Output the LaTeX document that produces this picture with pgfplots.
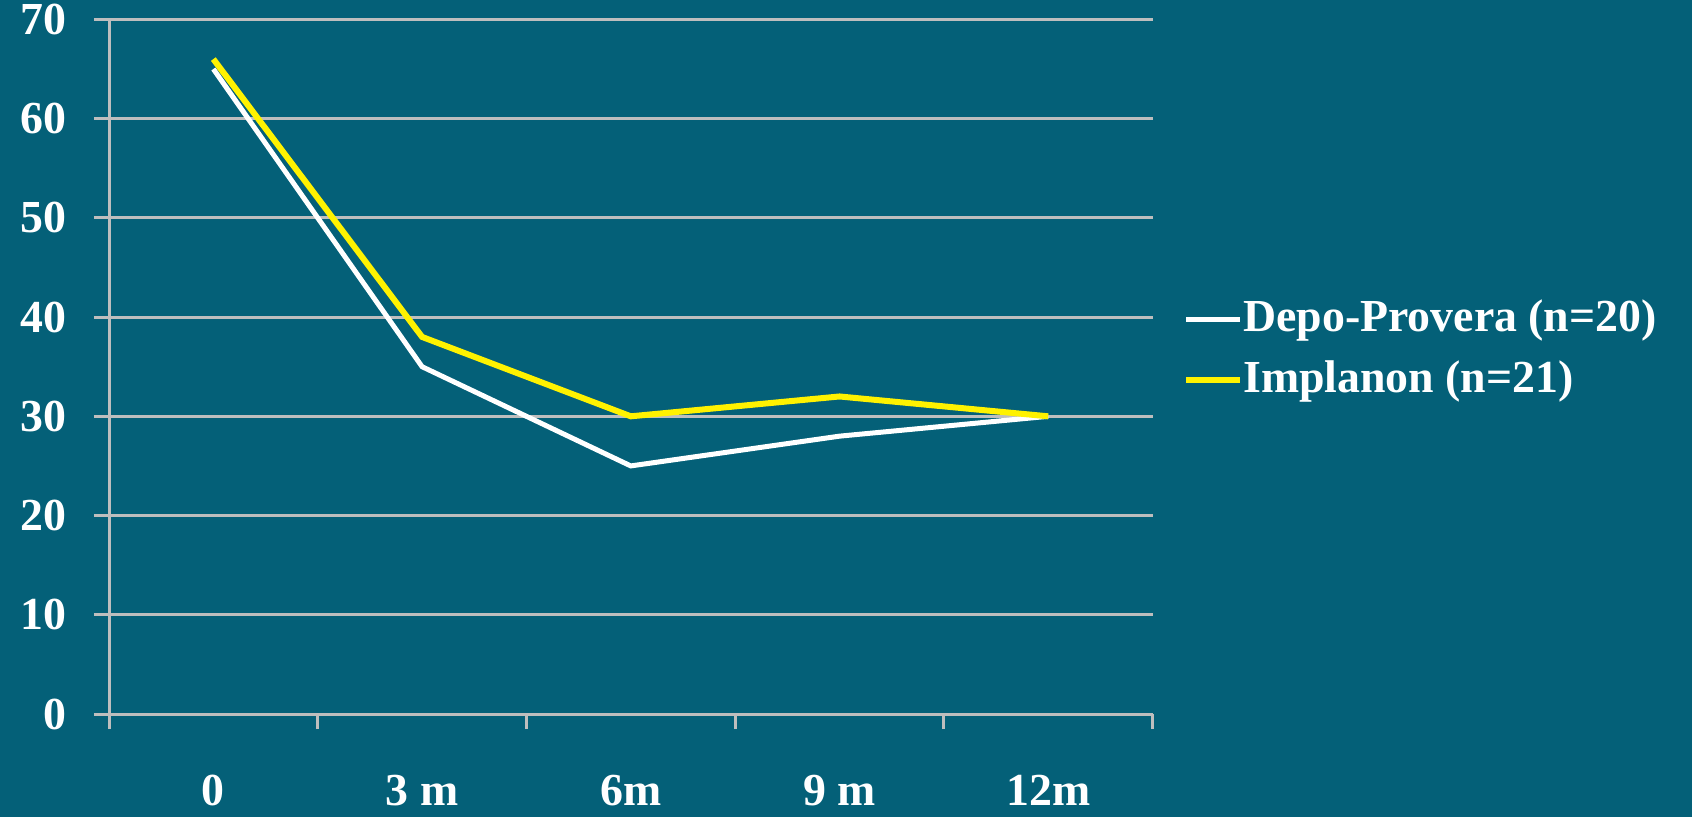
\documentclass[border=0pt]{standalone}
\usepackage{fontspec}
\setmainfont{Liberation Serif}
\usepackage{pgfplots}
\pgfplotsset{compat=1.18}
\definecolor{bg}{RGB}{4,96,120}
\definecolor{gridc}{RGB}{190,190,190}
\newcommand{\lblfont}{\bfseries\fontsize{23}{27}\selectfont}
\begin{document}
\begin{tikzpicture}
\fill[bg] (-54.5bp,-51.5bp) rectangle (791.5bp,357bp);
\useasboundingbox (-54.5bp,-51.5bp) rectangle (791.5bp,357bp);
\begin{axis}[
  at={(0,0)}, anchor=south west,
  scale only axis, width=521.8bp, height=347.3bp,
  xmin=-0.5, xmax=4.5, ymin=0, ymax=70,
  xtick={-0.5,0.5,...,4.5}, xticklabels={},
  extra x ticks={0,1,2,3,4},
  extra x tick labels={0,3 m,6m,9 m,12m},
  extra x tick style={major tick length=0pt},
  ytick={0,10,...,70},
  ymajorgrids,
  major grid style={gridc, line width=1.5bp},
  axis x line*=bottom, axis y line*=left,
  axis line style={-, gridc, line width=1.5bp},
  tick align=outside, major tick length=7.5bp,
  tick style={gridc, line width=1.5bp},
  tick label style={text=white, font=\lblfont},
  /pgf/number format/assume math mode=true,
  yticklabel style={anchor=east, xshift=-10.3bp},
  xticklabel style={anchor=base, yshift=-45.7bp},
  legend style={at={(1.029,0.5233)}, anchor=west, draw=none, fill=none,
    text=white, font=\lblfont, inner sep=0pt, row sep=9.5bp,
    nodes={inner sep=0pt, text height=16bp, text depth=5bp}},
  legend cell align=left,
  legend image code/.code={\draw[#1] (0bp,0.5bp)--(27bp,0.5bp);},
]
\addplot[white, line width=2.5bp] coordinates {(0,65) (1,35) (2,25) (3,28) (4,30)};
\addlegendentry{Depo-Provera (n=20)}
\addplot[yellow, line width=3bp] coordinates {(0,66) (1,38) (2,30) (3,32) (4,30)};
\addlegendentry{Implanon (n=21)}
\end{axis}
\end{tikzpicture}
\end{document}
